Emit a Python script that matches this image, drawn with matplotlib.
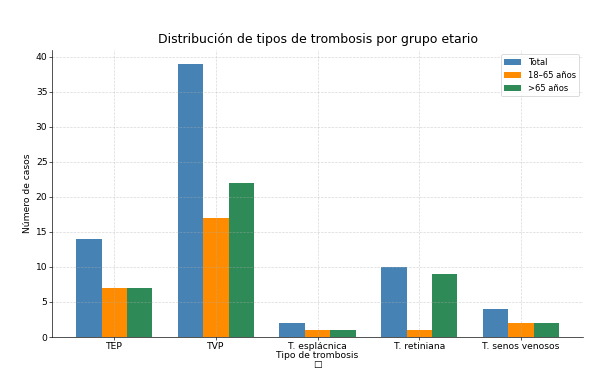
import matplotlib
matplotlib.use("Agg")
import matplotlib.pyplot as plt
import numpy as np

categorias = ["TEP", "TVP", "T. esplácnica", "T. retiniana", "T. senos venosos"]
total = [14, 39, 2, 10, 4]
adultos = [7, 17, 1, 1, 2]
mayores = [7, 22, 1, 9, 2]
etiquetas = ["Total", "18–65 años", ">65 años"]


def main():
    fig = plt.figure(figsize=(10, 6.417), dpi=60)
    ax = fig.add_axes([0.0867, 0.1247, 0.8853, 0.7453])

    x = np.arange(len(categorias))
    w = 0.25
    ax.bar(x - w, total, w, color="steelblue", label=etiquetas[0])
    ax.bar(x, adultos, w, color="darkorange", label=etiquetas[1])
    ax.bar(x + w, mayores, w, color="seagreen", label=etiquetas[2])

    ax.set_xticks(x)
    ax.set_xticklabels(categorias)
    ax.tick_params(labelsize=11, pad=2)
    ax.set_xlabel("Tipo de trombosis\n□", fontsize=11, labelpad=1, linespacing=1.0)
    ax.set_ylabel("Número de casos", fontsize=11)
    ax.set_title("Distribución de tipos de trombosis por grupo etario", fontsize=15, pad=9)
    ax.grid(True, linestyle="--", alpha=0.5)
    ax.spines["top"].set_visible(False)
    ax.spines["right"].set_visible(False)
    ax.legend(loc="upper right", fontsize=10)

    fig.savefig("out.png", dpi=60)


if __name__ == "__main__":
    main()
